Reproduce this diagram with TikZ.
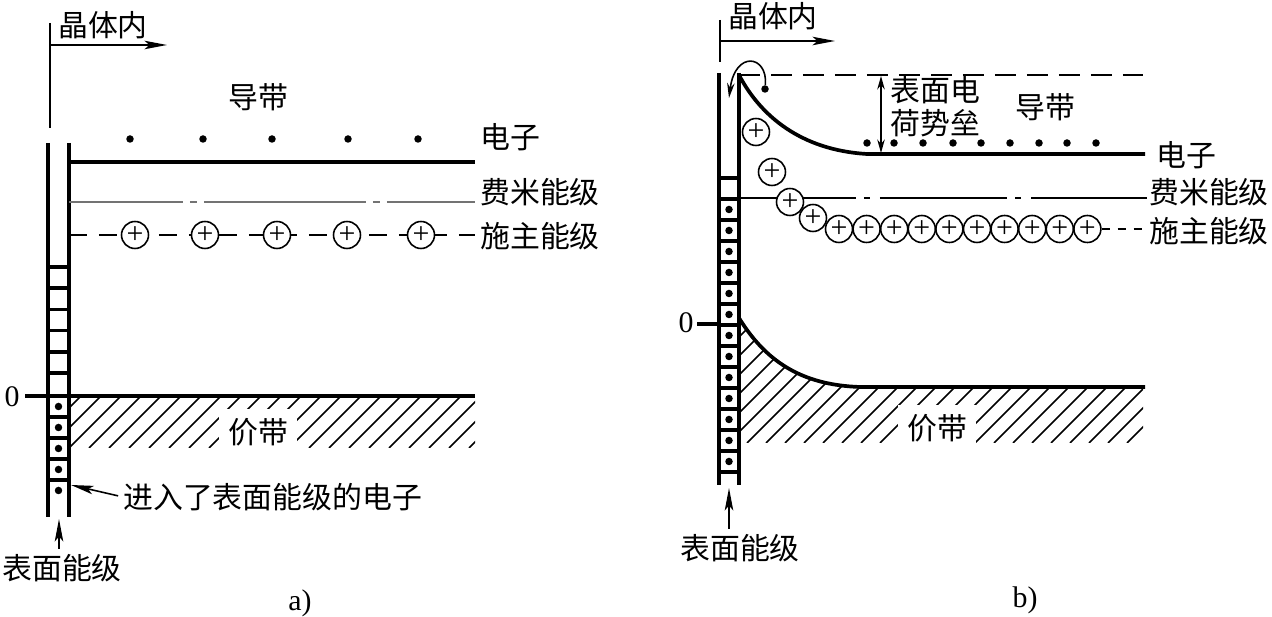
\documentclass[tikz,border=0pt]{standalone}
\usepackage{fontspec}
\setmainfont{Liberation Serif}
\newfontfamily\cjk{Noto Sans CJK SC}
\usepackage{tikz}
\usetikzlibrary{positioning,calc,arrows.meta}

\begin{document}
\begin{tikzpicture}[x=0.02cm,y=-0.02cm,
  lbl/.style={font=\cjk\fontsize{17}{21}\selectfont,inner sep=0pt},
  num/.style={font=\fontsize{17}{20}\selectfont,inner sep=0pt},
  band/.style={line width=2.1pt},
  wall/.style={line width=2pt},
  fine/.style={line width=0.9pt},
  hatch/.style={line width=0.85pt},
  donor/.style={circle,draw,fill=white,line width=0.9pt,minimum size=0.54cm,inner sep=0pt,font=\fontsize{17}{17}\selectfont},
  elec/.style={circle,fill,inner sep=0pt,minimum size=0.15cm},
  sdot/.style={circle,fill,inner sep=0pt,minimum size=0.15cm},
  arr/.style={fine,-{Stealth[length=0.45cm,width=0.17cm,inset=0.1cm]}},
  darr/.style={fine,{Stealth[length=0.27cm,width=0.15cm]}-{Stealth[length=0.27cm,width=0.15cm]}}]

  \useasboundingbox (0,0) rectangle (1272,617);

  % a) no band bending
  \node[lbl] (inA) at (103,25) {晶体内};
  \coordinate (inA0) at (50,23);
  \coordinate (inA1) at (50,128);
  \coordinate (inA2) at (50,45);
  \coordinate (inA3) at (167,45);
  \draw[line width=1.3pt] (inA0) -- (inA1);
  \draw[arr] (inA2) -- (inA3);

  \draw[wall] (48,143) -- (48,517) (69,143) -- (69,517);
  \foreach \k in {0,...,5} \draw[wall] (48,267+21.2*\k) -- (69,267+21.2*\k);
  \foreach \k in {1,...,4} \draw[wall] (48,396+21*\k) -- (69,396+21*\k);
  \foreach \k in {0,...,4} \node[sdot] (sa\k) at (58.5,406.5+21*\k) {};

  \draw[band] (69,162) -- (475,162);
  \foreach \x [count=\i] in {130,203,272,348,418} \node[elec] (ea\i) at (\x,139) {};
  \draw[fine,black!55,dash pattern=on 3.24cm off 0.14cm on 0.14cm off 0.14cm,dash phase=0.96cm] (69,202) -- (475,202);
  \draw[fine,dash pattern=on 0.36cm off 0.24cm] (69,235) -- (475,235);
  \foreach \x [count=\i] in {135,205,277,347,421} \node[donor] (da\i) at (\x,235) {+};

  \begin{scope}
    \clip (69,396) rectangle (475,448);
    \foreach \k in {0,...,24} \draw[hatch] (9+20*\k,448) -- ++(60,-60);
  \end{scope}
  \draw[band] (25,396) -- (475,396);
  \node[num] (zA) at (12,397) {0};
  \node[lbl,fill=white,inner sep=5pt] (vbA) at (258,432) {价带};

  \node[lbl] (cbA) at (258,97) {导带};
  \node[lbl,anchor=west] (elA) at (480,137) {电子};
  \node[lbl,anchor=west] (efA) at (480,192) {费米能级};
  \node[lbl,anchor=west] (edA) at (480,236) {施主能级};

  \node[lbl,anchor=west] (ssA) at (123,497) {进入了表面能级的电子};
  \coordinate (ssA0) at (71,485);
  \draw[arr,shorten <=0.1cm] (ssA.west) -- (ssA0);
  \node[lbl] (slA) at (62,568) {表面能级};
  \coordinate (slA0) at (59,519);
  \draw[arr,shorten <=0.1cm] (slA0 |- slA.north) -- (slA0);
  \node[num] (capA) at (300,603) {a)};

  % b) surface barrier
  \node[lbl] (inB) at (773,16) {晶体内};
  \coordinate (inB0) at (720,20);
  \coordinate (inB1) at (720,62);
  \coordinate (inB2) at (720,41);
  \coordinate (inB3) at (835,41);
  \draw[line width=1.3pt] (inB0) -- (inB1);
  \draw[arr] (inB2) -- (inB3);

  \draw[wall] (719,73) -- (719,485) (739,73) -- (739,485);
  \foreach \k in {0,...,14} \draw[wall] (719,178+21*\k) -- (739,178+21*\k);
  \foreach \k in {1,...,13} \node[sdot] (sb\k) at (729,188.5+21*\k) {};
  \draw[band] (697,324) -- (719,324);
  \node[num] (zB) at (686,323) {0};

  \draw[line width=1.4pt,dash pattern=on 0.42cm off 0.22cm] (739,75) -- (1143,75);
  \draw[band] (739,75) .. controls (760,115) and (800,150) .. (867,154) -- (1145,154);
  \foreach \x [count=\i] in {867,894,923,953,981,1010,1039,1067,1096} \node[elec] (eb\i) at (\x,143) {};
  \coordinate (brT) at (881,76);
  \coordinate (brB) at (881,153);
  \draw[darr] (brT) -- (brB);

  \node[elec] (eh) at (765,89) {};
  \coordinate (ehT) at (729,98);
  \draw[fine,-{Stealth[length=0.3cm,width=0.15cm]}] (eh) .. controls (768,55) and (735,50) .. (ehT);

  \draw[fine,dash pattern=on 2.55cm off 0.16cm on 0.12cm off 0.2cm,dash phase=0.21cm] (739,198) -- (1147,198);
  \foreach \x/\y [count=\i] in {756/132,772/172,790/202,813/218} \node[donor] (db\i) at (\x,\y) {+};
  \foreach \k in {0,...,9} \node[donor] (dc\k) at (839+27.6*\k,229) {+};
  \coordinate (dEnd) at (1148,229);
  \draw[fine,dash pattern=on 0.16cm off 0.16cm] (dc9) -- (dEnd);

  \begin{scope}
    \clip (739,318) .. controls (765,360) and (800,385) .. (860,387) -- (1143,387) -- (1143,443) -- (739,443) -- cycle;
    \foreach \k in {0,...,28} \draw[hatch] (614+19*\k,443) -- ++(130,-130);
  \end{scope}
  \draw[band] (739,318) .. controls (765,360) and (800,385) .. (860,387) -- (1145,387);
  \node[lbl,fill=white,inner sep=5pt] (vbB) at (937,428) {价带};

  \node[lbl] (cbB) at (1045,107) {导带};
  \node[lbl,anchor=west,align=left,font=\cjk\fontsize{17}{18.7}\selectfont] (brL) at (890,107) {表面电\\荷势垒};
  \node[lbl,anchor=west] (elB) at (1156,155) {电子};
  \node[lbl,anchor=west] (efB) at (1149,192) {费米能级};
  \node[lbl,anchor=west] (edB) at (1149,231) {施主能级};

  \node[lbl] (slB) at (740,548) {表面能级};
  \coordinate (slB0) at (729,488);
  \draw[arr,shorten <=0.1cm] (slB0 |- slB.north) -- (slB0);
  \node[num] (capB) at (1025,600) {b)};
\end{tikzpicture}
\end{document}
